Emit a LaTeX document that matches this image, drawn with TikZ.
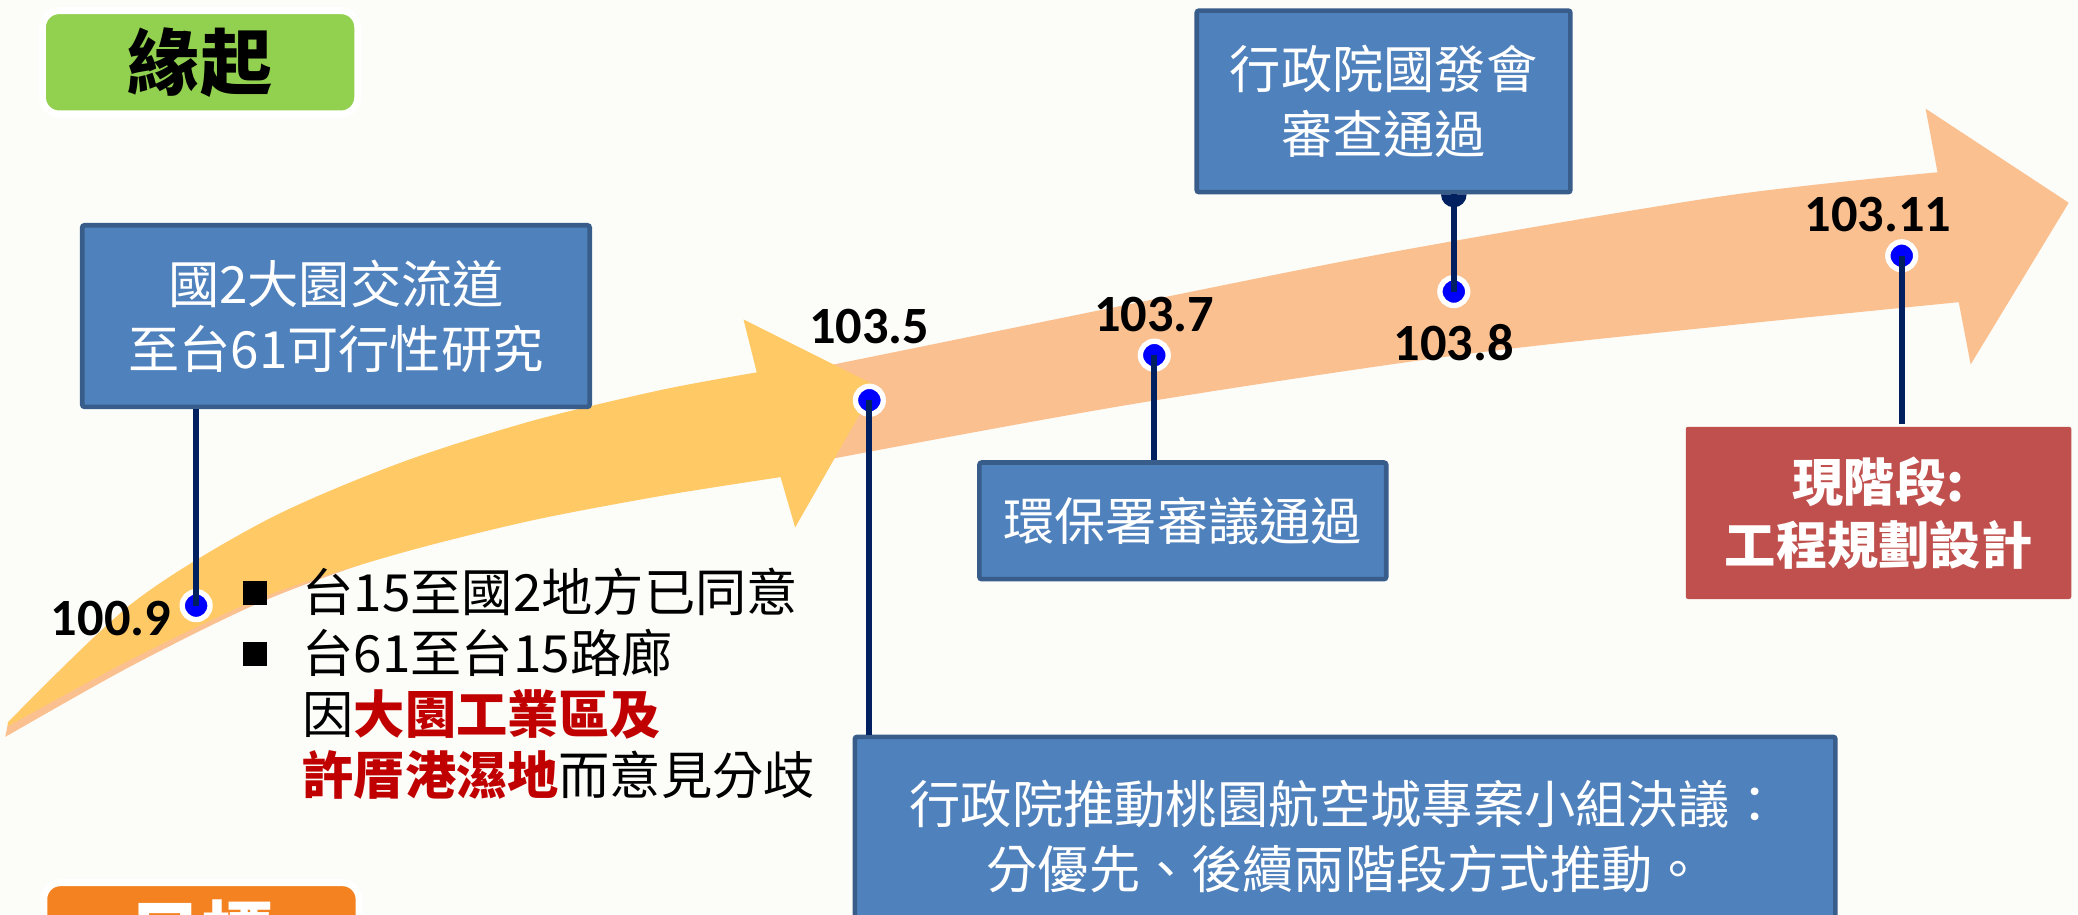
\documentclass[tikz,border=0pt]{standalone}
\usepackage{fontspec}
\setmainfont{Carlito}
\newfontfamily\cjk{Noto Sans CJK TC}
\usetikzlibrary{positioning}
\definecolor{pagebg}{RGB}{252,252,248}
\definecolor{peach}{RGB}{250,192,144}
\definecolor{sunyellow}{RGB}{255,202,102}
\definecolor{stemnavy}{RGB}{0,32,96}
\definecolor{boxblue}{RGB}{79,129,189}
\definecolor{boxedge}{RGB}{56,93,138}
\definecolor{nowred}{RGB}{192,80,77}
\definecolor{leafgreen}{RGB}{146,208,80}
\definecolor{taborange}{RGB}{245,130,32}
\definecolor{warnred}{RGB}{192,0,0}

\newcommand{\sqbullet}{\makebox[0.9cm][l]{\rule[0.1cm]{0.36cm}{0.36cm}}}
\newcommand{\hangpad}{\hspace*{0.9cm}}

\begin{document}
\begin{tikzpicture}[
        x=0.02cm, y=-0.02cm,
        box/.style={rectangle, draw=boxedge, fill=boxblue, line width=2pt, rounded corners=1pt, inner sep=0pt, align=center, text=white, font=\cjk\fontsize{22}{28}\selectfont},
        nowbox/.style={box, draw=none, fill=nowred, font=\cjk\bfseries\fontsize{22}{27}\selectfont},
        tabbox/.style={rectangle, rounded corners=0.25cm, draw=white, line width=3pt, minimum width=4.76cm, minimum height=1.56cm, font=\cjk\bfseries\fontsize{31}{31}\selectfont},
        notes/.style={align=left, inner sep=0pt, font=\cjk\fontsize{22}{26.2}\selectfont},
        datedot/.style={circle, fill=blue, draw=white, line width=2.3pt, minimum size=0.42cm, inner sep=0pt},
        datelabel/.style={inner sep=0pt, font=\bfseries\fontsize{22.5}{22.5}\selectfont},
        stemline/.style={draw=stemnavy, line width=2.6pt}
    ]
    \useasboundingbox (0,0) rectangle (1568,690);
    \clip (0,0) rectangle (1568,690);
    \fill[pagebg] (0,0) rectangle (1568,690);

    \fill[peach] plot[smooth] coordinates {(4,556) (100,502) (200,453) (300,417) (400,391) (500,372) (634,345) (860,304) (1100,268) (1300,246) (1478,228)}
        -- (1487,275) -- (1561,153) -- (1453,82) -- (1462,130)
        -- plot[smooth] coordinates {(1462,130) (1300,148) (1057,189) (860,228) (629,275) (500,300) (400,322) (300,354) (200,398) (100,458) (6,546)} -- cycle;
    \fill[sunyellow] plot[smooth] coordinates {(6,548) (100,497) (200,450) (300,418) (400,393) (500,374) (589,360)}
        -- (600,398) -- (661,291) -- (561,241) -- (571,281)
        -- plot[smooth] coordinates {(571,281) (500,294) (400,318) (300,350) (200,393) (100,455) (6,545)} -- cycle;

    \node[tabbox, fill=leafgreen] (origin) at (151,47) {緣起};
    \node[tabbox, fill=taborange, text=white] (goal) at (152,705) {\raisebox{-0.14cm}{目標}};

    \node[box, minimum width=7.66cm, minimum height=2.74cm] (b1009) at (253.5,238.5) {國2大園交流道\\至台61可行性研究};
    \node[box, minimum width=5.64cm, minimum height=2.74cm] (bndc) at (1044,76.5) {行政院國發會\\審查通過};
    \node[box, minimum width=6.14cm, minimum height=1.76cm] (bepa) at (892.5,393) {環保署審議通過};
    \node[box, minimum width=14.8cm, minimum height=3cm] (bdecide) at (1015,631) {行政院推動桃園航空城專案小組決議：\\分優先、後續兩階段方式推動。};
    \node[nowbox, minimum width=5.82cm, minimum height=2.6cm] (bnow) at (1417.5,387) {現階段:\\工程規劃設計};

    \node[notes, anchor=north west] (issues) at (183,428) {\sqbullet 台15至國2地方已同意\\
        \sqbullet 台61至台15路廊\\
        \hangpad 因{\color{warnred}\bfseries 大園工業區及}\\
        \hangpad{\color{warnred}\bfseries 許厝港濕地}而意見分歧};

    \node[datedot] (d1009) at (148,457) {};
    \node[datedot] (d1035) at (656,302) {};
    \node[datedot] (d1037) at (871,268) {};
    \node[datedot] (d1038) at (1097,220) {};
    \node[datedot] (d10311) at (1435,193) {};

    \node[datelabel, left=0.12cm of d1009, yshift=-0.2cm] (l1009) {100.9};
    \node[datelabel, above=0.6cm of d1035] (l1035) {103.5};
    \node[datelabel, above=0.1cm of d1037] (l1037) {103.7};
    \node[datelabel, below=0.24cm of d1038] (l1038) {103.8};
    \node[datelabel, above=0.1cm of d10311, xshift=-0.36cm] (l10311) {103.11};

    \draw[stemline] (d1009.center) -- (d1009 |- b1009.south);
    \draw[stemline] (d1035.center) -- (d1035 |- bdecide.north);
    \draw[stemline] (d1037.center) -- (d1037 |- bepa.north);
    \draw[stemline] (d1038.center) -- (d1038 |- bndc.south);
    \fill[stemnavy] (d1038 |- bndc.south) ++(5.5pt,0) arc[start angle=0, end angle=-180, radius=5.5pt] -- cycle;
    \draw[stemline] (d10311.center) -- (d10311 |- bnow.north);
\end{tikzpicture}
\end{document}
